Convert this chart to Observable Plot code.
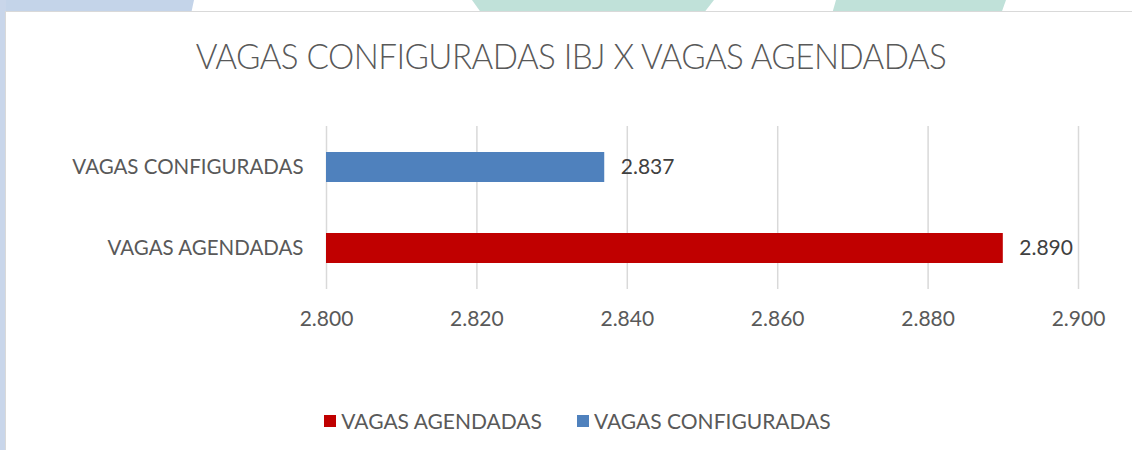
<!DOCTYPE html>
<html>
<head>
<meta charset="utf-8">
<script src="https://cdn.jsdelivr.net/npm/d3@7"></script>
<script src="https://cdn.jsdelivr.net/npm/@observablehq/plot@0.6"></script>
<style>
  html, body { margin: 0; padding: 0; background: #fff; width: 1132px; height: 450px; overflow: hidden; font-family: Lato, "Open Sans", sans-serif; }
  .deco { position: absolute; }
  #card { position: absolute; left: 5px; top: 11px; width: 1140px; height: 450px; background: #fff; border: 1px solid #d9d9d9; box-sizing: border-box; }
  #title { position: absolute; left: 0; width: 1142px; top: 33px; text-align: center; font-size: 36px; font-weight: 300; color: #595959; letter-spacing: -0.6px; white-space: nowrap; transform: scaleX(0.922); transform-origin: 571px 0; }
  #chart { position: absolute; left: 0; top: 100px; }
  #legend { position: absolute; top: 408px; left: 0; width: 1132px; display: flex; justify-content: center; gap: 35px; font-size: 21px; color: #595959; padding-left: 23px; box-sizing: border-box; }
  .item { display: flex; align-items: center; gap: 5px; }
  .sw { width: 12px; height: 12px; display: inline-block; }
</style>
</head>
<body>
<div class="deco" style="left:0;top:0;width:194px;height:14px;background:#c4d4e9;clip-path:polygon(0 0,194px 0,191px 14px,0 14px)"></div>
<div class="deco" style="left:0;top:0;width:6px;height:450px;background:#c9d6ea"></div>
<div class="deco" style="left:468px;top:0;width:250px;height:14px;background:#c0e1d9;clip-path:polygon(4px 0,246px 0,235px 14px,14px 14px)"></div>
<div class="deco" style="left:826px;top:0;width:182px;height:14px;background:#c0e1d9;clip-path:polygon(10px 0,180px 0,175px 14px,6px 14px)"></div>
<div id="card"></div>
<div id="title">VAGAS CONFIGURADAS IBJ X VAGAS AGENDADAS</div>
<div id="chart"></div>
<div id="legend"></div>
<script>
const categories = ["VAGAS CONFIGURADAS", "VAGAS AGENDADAS"];
const values = [2837, 2890];
const colors = ["#4f81bd", "#c00000"];
const xTicks = [2800, 2820, 2840, 2860, 2880, 2900];
const legendOrder = ["VAGAS AGENDADAS", "VAGAS CONFIGURADAS"];

const fmt = d3.formatLocale({decimal: ",", thousands: ".", grouping: [3], currency: ["R$", ""]}).format(",d");
const data = categories.map((c, i) => ({category: c, value: values[i], color: colors[i], base: xTicks[0]}));

const plot = Plot.plot({
  width: 1132,
  height: 250,
  marginLeft: 326,
  marginRight: 54,
  marginTop: 26,
  marginBottom: 61,
  style: {fontFamily: "Lato, 'Open Sans', sans-serif", fontSize: "20.5px", color: "#595959", background: "transparent"},
  x: {domain: [xTicks[0], xTicks[xTicks.length - 1]], ticks: xTicks, tickFormat: fmt, label: null},
  y: {domain: categories, paddingInner: 0.63, paddingOuter: 0.315, label: null},
  marks: [
    Plot.gridX(xTicks, {stroke: "#d9d9d9", strokeOpacity: 1, strokeWidth: 1.5}),
    Plot.axisX({ticks: xTicks, tickFormat: fmt, tickSize: 0, tickPadding: 22, fill: "#595959", label: null, fontSize: 21}),
    Plot.axisY({tickSize: 0, tickPadding: 23, fill: "#595959", label: null}),
    Plot.barX(data, {x1: "base", x2: "value", y: "category", fill: "color"}),
    Plot.text(data, {x: "value", y: "category", text: d => fmt(d.value), textAnchor: "start", dx: 16, fill: "#404040", fontSize: 21})
  ]
});
document.getElementById("chart").appendChild(plot);

const legend = document.getElementById("legend");
legendOrder.forEach(name => {
  const i = categories.indexOf(name);
  const item = document.createElement("div");
  item.className = "item";
  const sw = document.createElement("span");
  sw.className = "sw";
  sw.style.background = colors[i];
  const t = document.createElement("span");
  t.textContent = name;
  item.appendChild(sw);
  item.appendChild(t);
  legend.appendChild(item);
});
</script>
</body>
</html>
